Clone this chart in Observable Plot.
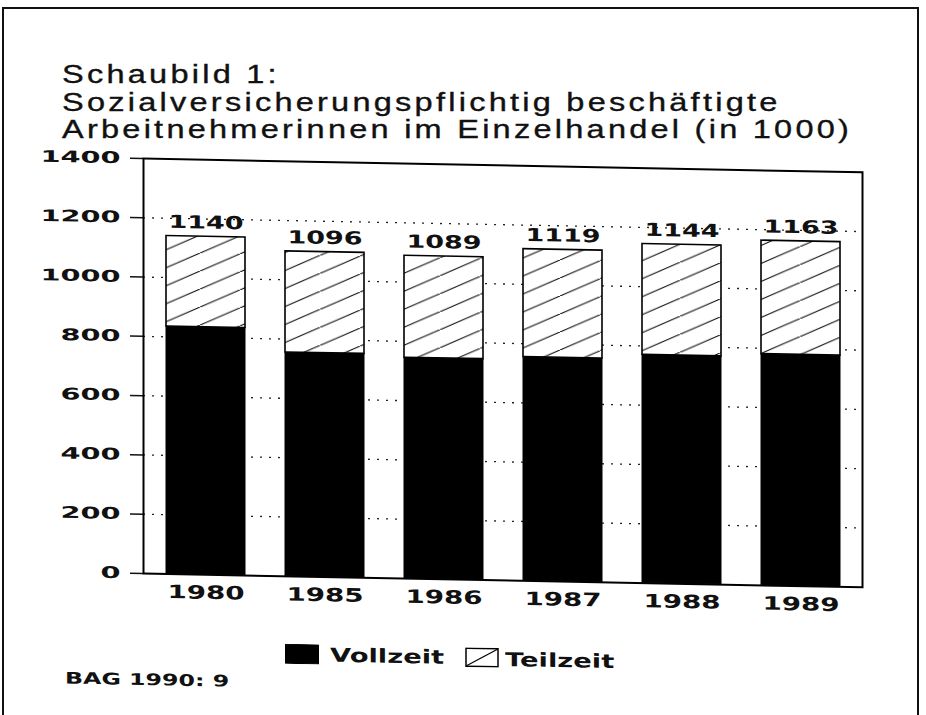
<!DOCTYPE html>
<html>
<head>
<meta charset="utf-8">
<script src="https://cdn.jsdelivr.net/npm/d3@7"></script>
<script src="https://cdn.jsdelivr.net/npm/@observablehq/plot@0.6"></script>
<style>
  html, body { margin: 0; padding: 0; background: #fff; }
  #page { position: relative; width: 926px; height: 715px; overflow: hidden; background: #fff; }
  #border { position: absolute; left: 2px; top: 7px; width: 917px; height: 760px; border: 2px solid #111; box-sizing: border-box; }
  #content { position: absolute; left: 0; top: 0; width: 926px; height: 715px; transform: skewY(1.1deg); transform-origin: 143px 573px; }
  #chart { position: absolute; left: 0; top: 0; }
  #title { position: absolute; left: 62px; top: 61px; font-family: "Liberation Sans", Arial, sans-serif; font-size: 25px; line-height: 27.5px; letter-spacing: 2.5px; color: #111; -webkit-text-stroke: 0.35px #111; white-space: nowrap; }
  #title div { transform: scaleX(1.3); transform-origin: 0 50%; height: 27.5px; }
  .lab { position: absolute; font-family: "DejaVu Sans"; font-weight: bold; color: #111; white-space: nowrap; transform-origin: 0 50%; }
</style>
</head>
<body>
<div id="page">
  <div id="border"></div>
  <div id="content">
    <div id="chart"></div>
    <div id="legend"></div>
  </div>
  <div id="title"></div>
</div>
<script>
// ---- data ----
const years = ["1980", "1985", "1986", "1987", "1988", "1989"];
const vollzeit = [835, 755, 745, 755, 770, 780];
const teilzeit = [305, 341, 344, 364, 374, 383];
const totals = ["1140", "1096", "1089", "1119", "1144", "1163"];
const seriesNames = ["Vollzeit", "Teilzeit"];
const yTicks = [0, 200, 400, 600, 800, 1000, 1200, 1400];
const gridTicks = [200, 400, 600, 800, 1000, 1200];
const titleLines = ["Schaubild 1:", "Sozialversicherungspflichtig beschäftigte", "Arbeitnehmerinnen im Einzelhandel (in 1000)"];
const sourceNote = "BAG 1990: 9";

const rows = years.map((year, i) => ({year, voll: vollzeit[i], teil: teilzeit[i], label: totals[i]}));

const svg = Plot.plot({
  width: 926,
  height: 620,
  marginTop: 158,
  marginBottom: 47,
  marginLeft: 143,
  marginRight: 64,
  style: {fontFamily: "DejaVu Sans", fontWeight: "bold", background: "none", color: "#111", overflow: "visible"},
  x: {type: "band", domain: years, paddingInner: 0.34, paddingOuter: 0.167, tickSize: 0, tickPadding: 11, label: null},
  y: {domain: [0, 1400], ticks: yTicks, tickSize: 13, tickPadding: 10, tickFormat: d => String(d), label: null},
  marks: [
    Plot.ruleY(gridTicks, {stroke: "#222", strokeWidth: 1.3, strokeDasharray: "2,7"}),
    Plot.barY(rows, {x: "year", y1: 0, y2: "voll", fill: "#000", stroke: "#000", strokeWidth: 1}),
    Plot.barY(rows, {x: "year", y1: "voll", y2: d => d.voll + d.teil, fill: "url(#hatch)", stroke: "#000", strokeWidth: 1.6}),
    Plot.text(rows, {x: "year", y: d => d.voll + d.teil, text: "label", dy: -14, fontSize: 18, fill: "#111"}),
    Plot.frame({stroke: "#000", strokeWidth: 2})
  ]
});

// hatch pattern
const ns = "http://www.w3.org/2000/svg";
const defs = document.createElementNS(ns, "defs");
defs.innerHTML = '<pattern id="hatch" patternUnits="userSpaceOnUse" width="40" height="18">' +
  '<rect width="40" height="18" fill="#fff"/>' +
  '<path d="M-4,19.8 L44,-1.8" stroke="#000" stroke-width="1.1" fill="none"/></pattern>';
svg.insertBefore(defs, svg.firstChild);

// horizontally extended lettering like the original typeface
function stretch(el, k) {
  const x = +(el.getAttribute("x") || 0);
  const t = el.getAttribute("transform") || "";
  el.setAttribute("transform", `${t} translate(${x},0) scale(${k},1) translate(${-x},0)`);
}
svg.querySelectorAll("text").forEach(el => {
  if (el.closest('[aria-label^="y-axis"]')) {
    el.style.fontSize = "16px"; el.style.fontWeight = "bold"; stretch(el, 1.8);
  } else if (el.closest('[aria-label^="x-axis"]')) {
    el.style.fontSize = "18.5px"; el.style.fontWeight = "bold"; stretch(el, 1.5);
  } else {
    el.style.fontSize = "18px"; el.style.fontWeight = "bold"; stretch(el, 1.5);
  }
});
svg.querySelectorAll('[aria-label^="y-axis"] line, [aria-label^="y-axis"] path').forEach(el => {
  el.setAttribute("stroke-width", "1.5");
});
document.getElementById("chart").appendChild(svg);

// title
const title = document.getElementById("title");
titleLines.forEach(t => { const d = document.createElement("div"); d.textContent = t; title.appendChild(d); });

// legend and source
const legend = document.getElementById("legend");
function addBox(left, top, hatched) {
  const s = document.createElementNS(ns, "svg");
  s.setAttribute("width", 34); s.setAttribute("height", 20);
  s.style.position = "absolute"; s.style.left = left + "px"; s.style.top = top + "px";
  s.innerHTML = hatched
    ? '<rect x="1" y="1" width="32" height="18" fill="#fff" stroke="#000" stroke-width="1.5"/><line x1="1.5" y1="18.5" x2="32.5" y2="1.5" stroke="#000" stroke-width="1.2"/>'
    : '<rect x="0.5" y="0.5" width="33" height="19" fill="#000" stroke="#000" stroke-width="1"/>';
  legend.appendChild(s);
}
function addLabel(text, left, centerY, size, k) {
  const sp = document.createElement("div");
  sp.className = "lab";
  sp.textContent = text;
  sp.style.left = left + "px";
  sp.style.top = (centerY - 11) + "px";
  sp.style.fontSize = size + "px";
  sp.style.lineHeight = "22px";
  sp.style.transform = `scaleX(${k})`;
  legend.appendChild(sp);
}
addBox(285, 641, false);
addLabel(seriesNames[0], 330, 651, 19, 1.44);
addBox(465, 641, true);
addLabel(seriesNames[1], 505, 652, 19, 1.44);
addLabel(sourceNote, 65, 680, 16, 1.48);
</script>
</body>
</html>
